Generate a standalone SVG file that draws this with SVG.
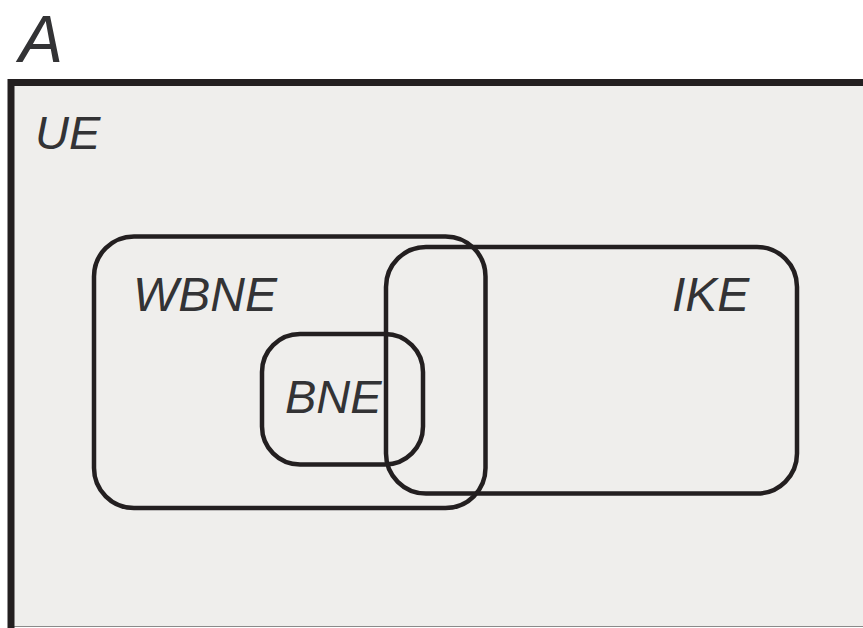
<svg xmlns="http://www.w3.org/2000/svg" width="863" height="628" viewBox="0 0 863 628">
<style>
.lbl{font-family:"Liberation Sans",Arial,sans-serif;font-style:italic;fill:#333335}
.set{fill:none;stroke:#231f20;stroke-width:4.5}
</style>
<rect x="0" y="0" width="863" height="628" fill="#ffffff"/>
<g id="universe">
<rect x="11" y="82.5" width="860" height="544" fill="#efeeec"/>
<line x1="11" y1="626.5" x2="863" y2="626.5" stroke="#8a8a8a" stroke-width="1"/>
<path d="M11,628 L11,82.5 L863,82.5" fill="none" stroke="#231f20" stroke-width="7"/>
<text class="lbl" x="35" y="149" font-size="47">UE</text>
</g>
<text id="title" class="lbl" x="19" y="62" font-size="66">A</text>
<g id="WBNE">
<rect class="set" x="94" y="236.5" width="391.5" height="271.5" rx="40" ry="40"/>
<text class="lbl" x="133" y="311" font-size="48">WBNE</text>
</g>
<g id="IKE">
<rect class="set" x="386" y="247" width="411" height="246.5" rx="40" ry="40"/>
<text class="lbl" x="672" y="311" font-size="48">IKE</text>
</g>
<g id="BNE">
<rect class="set" x="262" y="334" width="161" height="130.5" rx="38" ry="38"/>
<text class="lbl" x="285" y="413" font-size="47">BNE</text>
</g>
<g id="connectors"></g>
</svg>
